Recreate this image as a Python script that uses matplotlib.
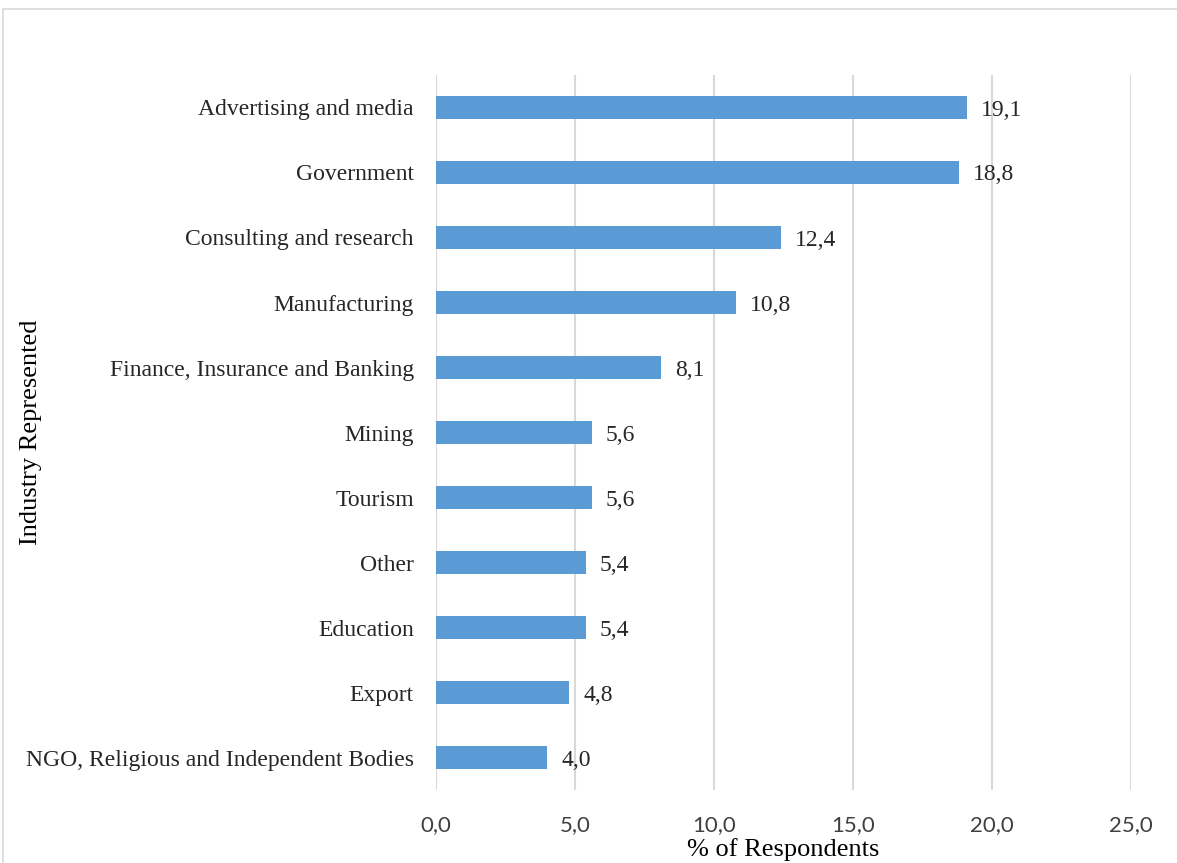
import matplotlib
matplotlib.use("Agg")
import matplotlib.pyplot as plt
from matplotlib.patches import Rectangle

categories = [
    "Advertising and media",
    "Government",
    "Consulting and research",
    "Manufacturing",
    "Finance, Insurance and Banking",
    "Mining",
    "Tourism",
    "Other",
    "Education",
    "Export",
    "NGO, Religious and Independent Bodies",
]
values = [19.1, 18.8, 12.4, 10.8, 8.1, 5.6, 5.6, 5.4, 5.4, 4.8, 4.0]
xticks = [0, 5, 10, 15, 20, 25]
xtick_labels = ["0,0", "5,0", "10,0", "15,0", "20,0", "25,0"]

W, H = 1177, 863
fig = plt.figure(figsize=(W / 100, H / 100), dpi=100)
ax = fig.add_axes([436 / W, 1 - 790 / H, (1131 - 436) / W, (790 - 75) / H])

serif = ["Liberation Serif", "DejaVu Serif"]
sans = ["Lato", "Liberation Sans", "DejaVu Sans"]
bar_color = "#5B9BD5"

ypos = list(range(len(categories)))
ax.barh(ypos, values, height=0.35, color=bar_color, zorder=3)
ax.set_ylim(len(categories) - 0.5, -0.5)
ax.set_xlim(0, 25)

for y, v in zip(ypos, values):
    ax.text(v + 0.5, y, f"{v:.1f}".replace(".", ","), va="center_baseline", ha="left",
            fontsize=17, family=serif, color="#262626")

ax.set_yticks(ypos)
ax.set_yticklabels(categories, family=serif, fontsize=17, color="#262626")
ax.set_xticks(xticks)
ax.set_xticklabels(xtick_labels, family=sans, fontsize=16, color="#404040")
ax.tick_params(axis="both", length=0)
ax.tick_params(axis="y", pad=16)
ax.tick_params(axis="x", pad=18)

ax.grid(axis="x", color="#D9D9D9", linewidth=1.5, zorder=0)
for s in ax.spines.values():
    s.set_visible(False)

ax.set_xlabel("% of Respondents", family=serif, fontsize=19, color="black", labelpad=2.5)
fig.text(31 / W, 1 - 432 / H, "Industry Represented", rotation=90, ha="center",
         va="center", family=serif, fontsize=19, color="black")

fig.patches.append(Rectangle((3 / W, -0.05), 1.1, 1 - 9 / H + 0.05,
                             transform=fig.transFigure, fill=False,
                             edgecolor="#D9D9D9", linewidth=1.2))

fig.savefig("out.png", dpi=100, facecolor="white")
